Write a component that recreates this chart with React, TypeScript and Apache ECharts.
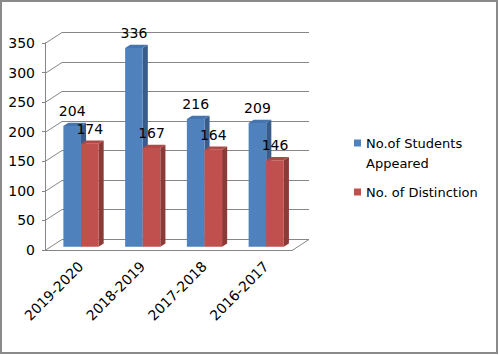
import React, { useEffect, useRef } from "react";
import * as echarts from "echarts";

const categories = ["2019-2020", "2018-2019", "2017-2018", "2016-2017"];
const appeared = [204, 336, 216, 209];
const distinction = [174, 167, 164, 146];
const yTicks = [0, 50, 100, 150, 200, 250, 300, 350];
const seriesNames = ["No.of Students Appeared", "No. of Distinction"];

const FONT = "DejaVu Sans";
const GRID = "#868686";
const DX = 17;
const DY = -11;
const T1 = 0.3;
const T2 = 0.6;
const BAR_FRAC = 0.285;

function barRenderer(idx: number, front: string, side: string, top: string) {
  return (params: any, api: any) => {
    const i = api.value(0);
    const v = api.value(1);
    const base = api.coord([i, 0]);
    const tip = api.coord([i, v]);
    const catW = api.size([1, 0])[0];
    const bw = catW * BAR_FRAC;
    const x0 = base[0] + (idx === 0 ? -bw : 0);
    const x1 = x0 + bw;
    const fx0 = x0 + DX * T1;
    const fx1 = x1 + DX * T1;
    const fyB = base[1] + DY * T1;
    const fyT = tip[1] + DY * T1;
    const bx0 = x0 + DX * T2;
    const bx1 = x1 + DX * T2;
    const byB = base[1] + DY * T2;
    const byT = tip[1] + DY * T2;
    return {
      type: "group",
      children: [
        { type: "polygon", shape: { points: [[fx1, fyB], [bx1, byB], [bx1, byT], [fx1, fyT]] }, style: { fill: side } },
        { type: "polygon", shape: { points: [[fx0, fyT], [fx1, fyT], [bx1, byT], [bx0, byT]] }, style: { fill: top } },
        { type: "rect", shape: { x: fx0, y: fyT, width: bw, height: fyB - fyT }, style: { fill: front } },
        {
          type: "text",
          x: (fx0 + fx1) / 2,
          y: fyT - 8,
          style: { text: String(v), align: "center", verticalAlign: "bottom", fontSize: 14, fontFamily: FONT, fill: "#000" },
        },
      ],
    };
  };
}

function wallRenderer(params: any, api: any) {
  const v = api.value(1);
  const cs = params.coordSys;
  const y = Math.round(api.coord([0, v])[1]) + 0.5;
  const st = { stroke: GRID, lineWidth: 1 };
  const children: any[] = [
    { type: "line", shape: { x1: cs.x, y1: y, x2: cs.x + DX, y2: y + DY }, style: st },
    { type: "line", shape: { x1: cs.x + DX, y1: y + DY, x2: cs.x + cs.width + DX, y2: y + DY }, style: st },
  ];
  if (v === 0) {
    children.push({
      type: "line",
      shape: { x1: cs.x + cs.width, y1: y, x2: cs.x + cs.width + DX, y2: y + DY },
      style: st,
    });
  }
  return { type: "group", children };
}

export default function App() {
  const ref = useRef<HTMLDivElement>(null);
  useEffect(() => {
    if (!ref.current) return;
    const chart = echarts.init(ref.current, undefined, { renderer: "svg" });
    chart.setOption({
      animation: false,
      backgroundColor: "#fff",
      textStyle: { fontFamily: FONT },
      graphic: [
        {
          type: "rect",
          shape: { x: 1, y: 1, width: 496, height: 352 },
          style: { fill: "none", stroke: "#8a8a8a", lineWidth: 2 },
          z: 10,
        },
      ],
      grid: { left: 45, top: 43, width: 247, height: 207 },
      legend: {
        orient: "vertical",
        left: 349,
        top: 108,
        itemWidth: 7,
        itemHeight: 7,
        itemGap: 9,
        icon: "rect",
        data: seriesNames,
        formatter: (name: string) => (name === seriesNames[0] ? "\nNo.of Students\nAppeared" : name),
        textStyle: { fontSize: 13, lineHeight: 20, color: "#000", fontFamily: FONT },
      },
      xAxis: {
        type: "category",
        data: categories,
        axisLine: { lineStyle: { color: GRID } },
        axisTick: { length: 6, lineStyle: { color: GRID } },
        axisLabel: { rotate: 45, fontSize: 14, color: "#000", margin: 9, verticalAlign: "top", fontFamily: FONT },
        splitLine: { show: false },
      },
      yAxis: {
        type: "value",
        min: 0,
        max: 350,
        interval: 50,
        axisLine: { show: true, lineStyle: { color: GRID } },
        axisTick: { show: true, length: 3, lineStyle: { color: GRID } },
        axisLabel: { fontSize: 14, color: "#000", margin: 10, fontFamily: FONT },
        splitLine: { show: false },
      },
      series: [
        {
          type: "custom",
          name: "walls",
          z: 1,
          silent: true,
          renderItem: wallRenderer,
          data: yTicks.map((v) => [0, v]),
        },
        {
          type: "custom",
          name: seriesNames[0],
          z: 2,
          itemStyle: { color: "#4F81BD" },
          renderItem: barRenderer(0, "#4F81BD", "#385D8A", "#4675AE"),
          data: appeared.map((v, i) => [i, v]),
        },
        {
          type: "custom",
          name: seriesNames[1],
          z: 3,
          itemStyle: { color: "#C0504D" },
          renderItem: barRenderer(1, "#C0504D", "#8C3A38", "#B04845"),
          data: distinction.map((v, i) => [i, v]),
        },
      ],
    });
    return () => chart.dispose();
  }, []);
  return <div ref={ref} style={{ position: "fixed", left: 0, top: 0, width: 499, height: 355 }} />;
}
